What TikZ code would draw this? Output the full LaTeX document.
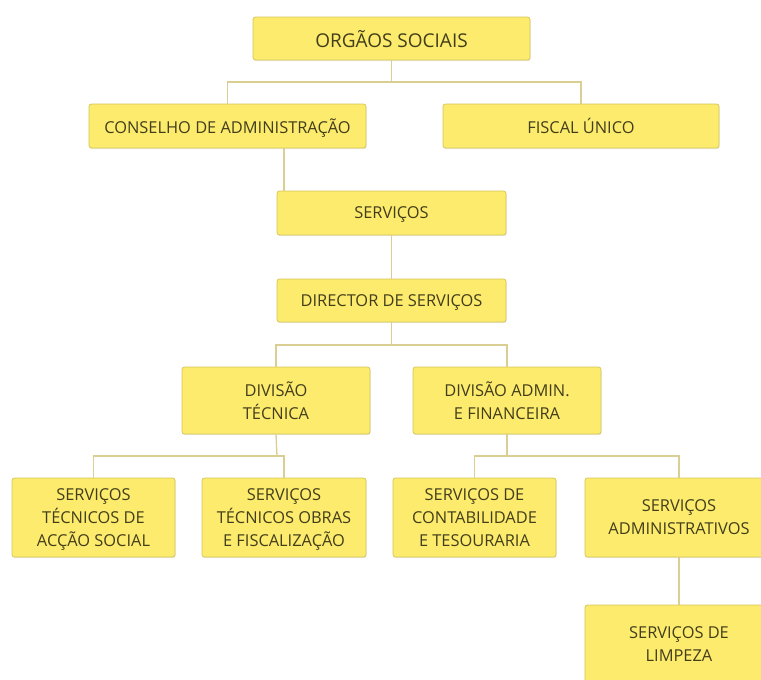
\documentclass[tikz,border=0pt]{standalone}
\usepackage{fontspec}
\setmainfont{Open Sans}
\usetikzlibrary{shadows}
\definecolor{boxfill}{HTML}{FCEB6C}
\definecolor{boxline}{HTML}{D6C65A}
\definecolor{conncol}{HTML}{D9CF92}
\definecolor{txtcol}{HTML}{423E1C}
\tikzset{
  orgbox/.style={draw=boxline, line width=0.8pt, fill=boxfill, rounded corners=2.5pt,
    align=center, inner sep=0pt, text depth=0pt, font=\fontsize{16.4}{23}\selectfont, text=txtcol,
    drop shadow={shadow xshift=0.6pt, shadow yshift=-1.2pt, opacity=0.18}},
  conn/.style={draw=conncol, line width=1.3pt}
}
\begin{document}
\begin{tikzpicture}[x=1pt,y=1pt]
\useasboundingbox (0,0) rectangle (761,-680);
\clip (0,0) rectangle (761,-680);
\node[orgbox, minimum width=277pt, minimum height=43pt, font=\fontsize{19}{23}\selectfont] (org) at (391.5,-38.5) {ORGÃOS SOCIAIS};
\node[orgbox, minimum width=277pt, minimum height=44pt] (cons) at (227.5,-126) {CONSELHO DE ADMINISTRAÇÃO};
\node[orgbox, minimum width=276pt, minimum height=44pt] (fisc) at (581,-126) {FISCAL ÚNICO};
\node[orgbox, minimum width=229pt, minimum height=44pt] (serv) at (391.5,-213) {SERVIÇOS};
\node[orgbox, minimum width=229pt, minimum height=43pt] (dir) at (391.5,-300.5) {DIRECTOR DE SERVIÇOS};
\node[orgbox, minimum width=188pt, minimum height=67pt] (divt) at (276,-400.5) {DIVISÃO\\TÉCNICA};
\node[orgbox, minimum width=188pt, minimum height=67pt] (diva) at (507,-400.5) {DIVISÃO ADMIN.\\E FINANCEIRA};
\node[orgbox, minimum width=163pt, minimum height=79pt] (sta) at (93.5,-517.5) {SERVIÇOS\\TÉCNICOS DE\\ACÇÃO SOCIAL};
\node[orgbox, minimum width=164pt, minimum height=79pt] (sto) at (284,-517.5) {SERVIÇOS\\TÉCNICOS OBRAS\\E FISCALIZAÇÃO};
\node[orgbox, minimum width=163pt, minimum height=79pt] (sct) at (474.5,-517.5) {SERVIÇOS DE\\CONTABILIDADE\\E TESOURARIA};
\node[orgbox, minimum width=188pt, minimum height=79pt] (sadm) at (679,-517.5) {SERVIÇOS\\ADMINISTRATIVOS};
\node[orgbox, minimum width=188pt, minimum height=79pt] (slim) at (679,-644.5) {SERVIÇOS DE\\LIMPEZA};
% connectors
\coordinate (j1) at (391.5,-82);
\draw[conn] (org.south) -- (j1);
\draw[conn] (cons.north) |- (j1) -| (fisc.north);
\coordinate (cs) at (284,-148);
\draw[conn] (cs) -- (cs |- serv.north);
\draw[conn] (serv.south) -- (dir.north);
\coordinate (j2) at (391.5,-345);
\draw[conn] (dir.south) -- (j2);
\draw[conn] (divt.north) |- (j2) -| (diva.north);
\coordinate (j3) at (277,-456);
\draw[conn] (divt.south) -- (j3);
\draw[conn] (sta.north) |- (j3) -| (sto.north);
\coordinate (j4) at (507,-456);
\draw[conn] (diva.south) -- (j4);
\draw[conn] (sct.north) |- (j4) -| (sadm.north);
\draw[conn] (sadm.south) -- (slim.north);
\end{tikzpicture}
\end{document}
